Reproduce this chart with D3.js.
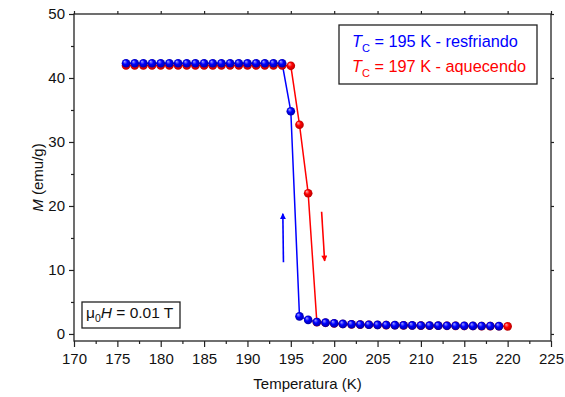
<!DOCTYPE html>
<html>
<head>
<meta charset="utf-8">
<script src="https://cdn.jsdelivr.net/npm/d3@7"></script>
<style>
  html, body { margin: 0; padding: 0; background: #fff; }
  svg { display: block; font-family: "Liberation Sans", Arial, sans-serif; }
</style>
</head>
<body>
<svg id="chart" width="565" height="397"></svg>
<script>
// Temperature (K) of each measurement
const tempCooling = d3.range(176, 220);          // 176 .. 219
const tempHeating = d3.range(176, 221);          // 176 .. 220

// Magnetisation M (emu/g), cooling run (resfriando)
const magCooling = [
  42.3, 42.3, 42.3, 42.3, 42.3, 42.3, 42.3, 42.3, 42.3, 42.3,
  42.3, 42.3, 42.3, 42.3, 42.3, 42.3, 42.3, 42.3, 42.3,
  34.8, 2.75, 2.2, 1.87, 1.77, 1.67, 1.57, 1.52, 1.48, 1.45,
  1.42, 1.40, 1.38, 1.36, 1.34, 1.32, 1.31, 1.30, 1.29, 1.28,
  1.27, 1.26, 1.25, 1.24, 1.23
];
// Magnetisation M (emu/g), heating run (aquecendo)
const magHeating = [
  41.95, 41.95, 41.95, 41.95, 41.95, 41.95, 41.95, 41.95, 41.95, 41.95,
  41.95, 41.95, 41.95, 41.95, 41.95, 41.95, 41.95, 41.95, 41.95,
  41.9, 32.7, 22.0, 1.85, 1.74, 1.64, 1.55, 1.50, 1.46, 1.43,
  1.40, 1.38, 1.36, 1.34, 1.32, 1.30, 1.29, 1.28, 1.27, 1.26,
  1.25, 1.24, 1.23, 1.22, 1.21, 1.19
];

const xTicks = d3.range(170, 226, 5);
const xMinor = d3.range(172.5, 225, 5);
const yTicks = d3.range(0, 51, 10);
const yMinor = d3.range(5, 50, 10);

// Direction arrows along the hysteresis branches (data units)
const arrowCooling = [[194.15, 11.2], [194.08, 18.8]];
const arrowHeating = [[198.55, 19.1], [198.9, 11.4]];

const series = [
  { name: "heating", T: tempHeating, M: magHeating, color: "#ff0000", light: "#ffb0b0", dark: "#b00000" },
  { name: "cooling", T: tempCooling, M: magCooling, color: "#0000ff", light: "#a8a8ff", dark: "#00009a" }
];

const svg = d3.select("#chart");
const x = d3.scaleLinear().domain([170, 225]).range([74, 551]);
const y = d3.scaleLinear().domain([-1.1, 50]).range([341, 14]);

const defs = svg.append("defs");
series.forEach(s => {
  const g = defs.append("radialGradient")
    .attr("id", "ball-" + s.name)
    .attr("cx", "50%").attr("cy", "50%").attr("r", "55%")
    .attr("fx", "32%").attr("fy", "28%");
  g.append("stop").attr("offset", "0%").attr("stop-color", s.light);
  g.append("stop").attr("offset", "45%").attr("stop-color", s.color);
  g.append("stop").attr("offset", "100%").attr("stop-color", s.dark);
});
[["head-blue", "#0000ff"], ["head-red", "#ff0000"]].forEach(([id, c]) => {
  defs.append("marker")
    .attr("id", id)
    .attr("viewBox", "0 0 10 10")
    .attr("refX", 9).attr("refY", 5)
    .attr("markerWidth", 9).attr("markerHeight", 6)
    .attr("markerUnits", "userSpaceOnUse")
    .attr("orient", "auto")
    .append("path").attr("d", "M0,0 L10,5 L0,10 Z").attr("fill", c);
});

const axisColor = "#222";
const fontSize = 15;

function styleAxis(g) {
  g.select(".domain").remove();
  g.selectAll("line").attr("stroke", axisColor).attr("stroke-width", 1.2);
  g.selectAll("text").attr("fill", "#111").style("font-size", fontSize + "px");
}

// bottom axis
svg.append("g").attr("transform", `translate(0,${y.range()[0]})`)
  .call(d3.axisBottom(x).tickValues(xTicks).tickSize(6).tickPadding(6).tickFormat(d3.format("d")))
  .call(styleAxis);
svg.append("g").attr("transform", `translate(0,${y.range()[0]})`)
  .call(d3.axisBottom(x).tickValues(xMinor).tickSize(3).tickFormat(""))
  .call(styleAxis);
// top axis (mirror)
svg.append("g").attr("transform", `translate(0,${y.range()[1]})`)
  .call(d3.axisTop(x).tickValues(xTicks).tickSize(3).tickFormat(""))
  .call(styleAxis);
// left axis
svg.append("g").attr("transform", `translate(${x.range()[0]},0)`)
  .call(d3.axisLeft(y).tickValues(yTicks).tickSize(5).tickPadding(4).tickFormat(d3.format("d")))
  .call(styleAxis);
svg.append("g").attr("transform", `translate(${x.range()[0]},0)`)
  .call(d3.axisLeft(y).tickValues(yMinor).tickSize(3).tickFormat(""))
  .call(styleAxis);
// right axis (mirror)
svg.append("g").attr("transform", `translate(${x.range()[1]},0)`)
  .call(d3.axisRight(y).tickValues(yTicks).tickSize(3).tickFormat(""))
  .call(styleAxis);

// frame
svg.append("rect")
  .attr("x", x.range()[0]).attr("y", y.range()[1])
  .attr("width", x.range()[1] - x.range()[0])
  .attr("height", y.range()[0] - y.range()[1])
  .attr("fill", "none").attr("stroke", axisColor).attr("stroke-width", 1.3);

// axis titles
svg.append("text")
  .attr("x", (x.range()[0] + x.range()[1]) / 2 - 5).attr("y", 389)
  .attr("text-anchor", "middle").style("font-size", "15px").attr("fill", "#111")
  .text("Temperatura (K)");
const yt = svg.append("text")
  .attr("transform", `translate(43,${(y.range()[0] + y.range()[1]) / 2}) rotate(-90)`)
  .attr("text-anchor", "middle").style("font-size", "15px").attr("fill", "#111");
yt.append("tspan").style("font-style", "italic").text("M");
yt.append("tspan").text(" (emu/g)");

// curves and markers
const line = d3.line().x(d => x(d[0])).y(d => y(d[1]));
series.forEach(s => {
  const pts = s.T.map((t, i) => [t, s.M[i]]);
  svg.append("path").datum(pts)
    .attr("d", line).attr("fill", "none")
    .attr("stroke", s.color).attr("stroke-width", 1.5);
});
series.forEach(s => {
  const pts = s.T.map((t, i) => [t, s.M[i]]);
  svg.append("g").selectAll("circle").data(pts).join("circle")
    .attr("cx", d => x(d[0])).attr("cy", d => y(d[1]))
    .attr("r", 4.3)
    .attr("fill", `url(#ball-${s.name})`);
});

// arrows
[[arrowCooling, "#0000ff", "head-blue"], [arrowHeating, "#ff0000", "head-red"]].forEach(([a, c, m]) => {
  svg.append("line")
    .attr("x1", x(a[0][0])).attr("y1", y(a[0][1]))
    .attr("x2", x(a[1][0])).attr("y2", y(a[1][1]))
    .attr("stroke", c).attr("stroke-width", 1.6)
    .attr("marker-end", `url(#${m})`);
});

// legend box
svg.append("rect").attr("x", 339).attr("y", 25).attr("width", 198).attr("height", 59)
  .attr("fill", "#fff").attr("stroke", axisColor).attr("stroke-width", 1.3);
const legendRows = [
  { label: " = 195 K - resfriando", color: "#0000ff", y: 47 },
  { label: " = 197 K - aquecendo", color: "#ff0000", y: 72 }
];
legendRows.forEach(r => {
  const t = svg.append("text").attr("x", 352).attr("y", r.y)
    .attr("fill", r.color).style("font-size", "16.3px");
  t.append("tspan").style("font-style", "italic").text("T");
  t.append("tspan").attr("dy", 5).style("font-size", "11px").text("C");
  t.append("tspan").attr("dy", -5).text(r.label);
});

// field box
svg.append("rect").attr("x", 82).attr("y", 302).attr("width", 98).attr("height", 26)
  .attr("fill", "#fff").attr("stroke", axisColor).attr("stroke-width", 1.3);
const ft = svg.append("text").attr("x", 86).attr("y", 318)
  .attr("fill", "#111").style("font-size", "15.5px");
ft.append("tspan").text("μ");
ft.append("tspan").attr("dy", 4).style("font-size", "10.5px").text("0");
ft.append("tspan").attr("dy", -4).style("font-style", "italic").text("H");
ft.append("tspan").text(" = 0.01 T");
</script>
</body>
</html>
